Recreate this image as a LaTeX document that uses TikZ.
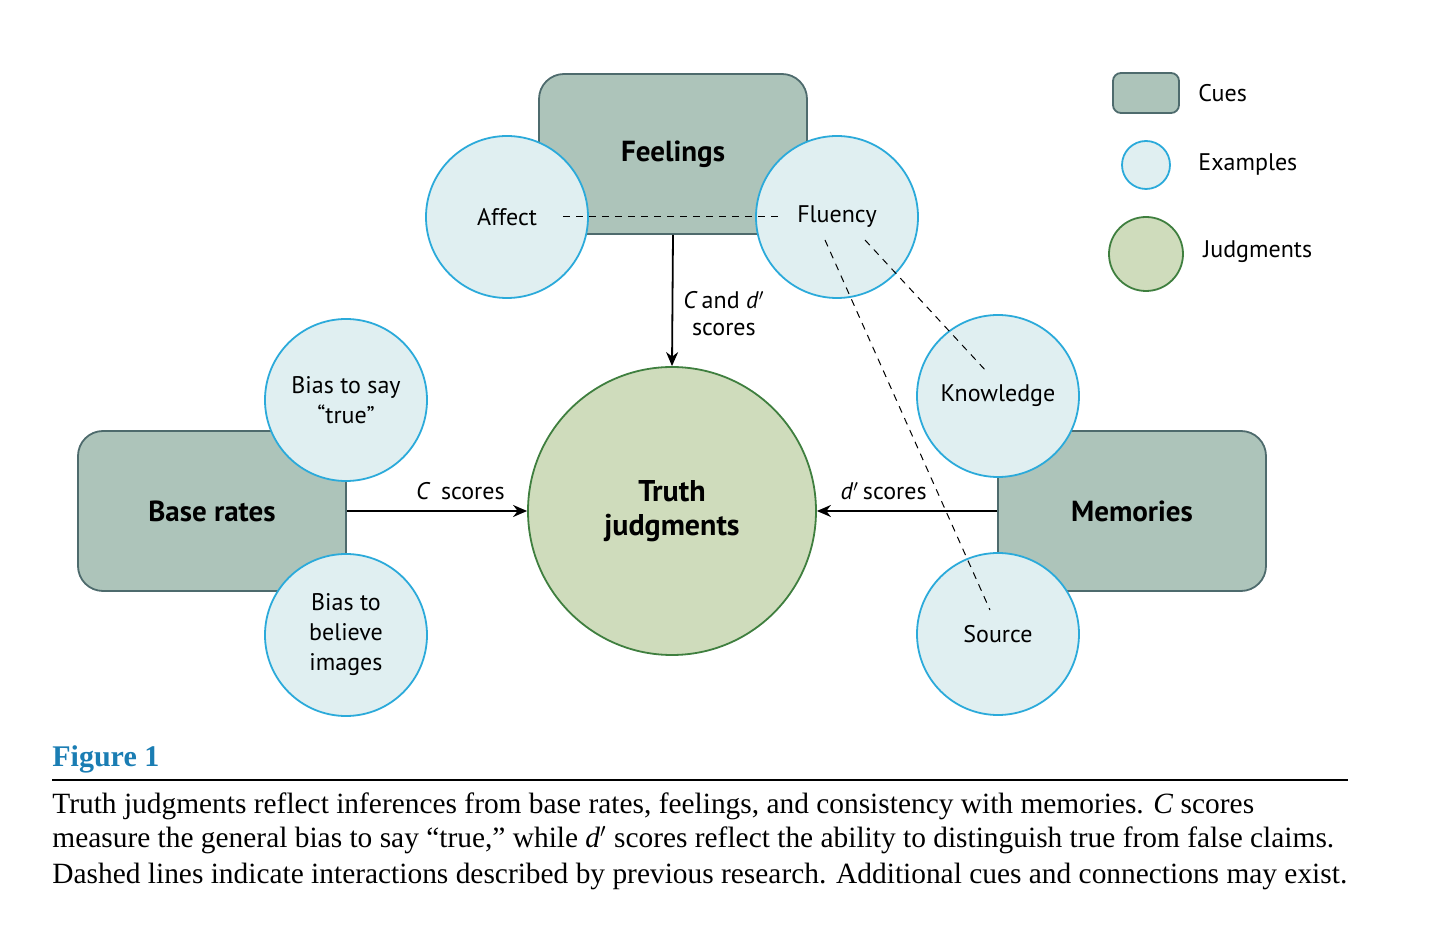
\documentclass[tikz,border=0pt]{standalone}
\usepackage{fontspec}
\setmainfont{Liberation Serif}
\newfontfamily\labelfont{PT Sans}
\usepackage{tikz}
\usepackage{xcolor}
\usetikzlibrary{arrows.meta,positioning,calc}
\definecolor{cueFill}{HTML}{ADC4BA}
\definecolor{cueLine}{HTML}{4E6B6D}
\definecolor{exFill}{HTML}{E0EFF1}
\definecolor{exLine}{HTML}{2BAADA}
\definecolor{judFill}{HTML}{CFDCBC}
\definecolor{judLine}{HTML}{3F7F3F}
\definecolor{figBlue}{HTML}{1A7DB3}
\tikzset{
  cue/.style={rounded corners=12.5pt,draw=cueLine,line width=0.9pt,fill=cueFill,
              minimum width=134pt,minimum height=80pt,
              font=\labelfont\fontsize{14.5}{17}\selectfont\bfseries},
  example/.style={circle,draw=exLine,line width=0.9pt,fill=exFill,
              minimum size=81pt,inner sep=0pt,align=center,
              font=\labelfont\fontsize{12}{15}\selectfont},
  judgment/.style={circle,draw=judLine,line width=0.9pt,fill=judFill,
              minimum size=144pt,inner sep=0pt,align=center,
              font=\labelfont\fontsize{15}{17}\selectfont\bfseries},
  legtext/.style={anchor=west,inner sep=0pt,font=\labelfont\fontsize{12}{14}\selectfont},
  scorearrow/.style={-{Stealth[length=7pt,width=6pt]},line width=0.9pt},
  scorelabel/.style={inner sep=0pt,align=center,font=\labelfont\fontsize{12}{13.5}\selectfont},
  link/.style={dashed,dash pattern=on 3.5pt off 3pt,line width=0.5pt},
}

\begin{document}
\begin{tikzpicture}[x=0.5pt,y=-0.5pt]
  \useasboundingbox (0,0) rectangle (1436,940);
  % cues
  \node[cue] (feel) at (673,154) {Feelings};
  \node[cue] (base) at (212,511) {Base rates};
  \node[cue] (mem) at (1132,511) {Memories};
  % examples
  \node[example] (affect) at (507,217) {Affect};
  \node[example] (fluency) at (837,217) {Fluency};
  \node[example] (biastrue) at (346,400) {Bias to say\\“true”};
  \node[example] (biasimg) at (346,635) {Bias to\\believe\\images};
  \node[example] (know) at (998,396) {Knowledge};
  \node[example] (source) at (998,634) {Source};
  % judgment
  \node[judgment] (truth) at (672,511) {Truth\\judgments};
  % score arrows
  \draw[scorearrow] (feel.south) -- (truth.north)
     node[scorelabel,pos=0.6,right=5pt]{\textit{C}\,and \textit{d}$'$\\scores};
  \draw[scorearrow] (base.east) -- (truth.west)
     node[scorelabel,pos=0.63,above=5pt]{\textit{C}\, scores};
  \draw[scorearrow] (mem.west) -- (truth.east)
     node[scorelabel,pos=0.63,above=5pt]{\textit{d}$'$\,scores};
  % interactions
  \coordinate (flKnow) at ([shift={(28,23)}]fluency.center);
  \coordinate (flSrc) at ([shift={(-12,23)}]fluency.center);
  \coordinate (knowEnd) at ([shift={(-11,-24)}]know.center);
  \coordinate (srcEnd) at ([shift={(-8,-24)}]source.center);
  \draw[link,shorten <=28pt,shorten >=27pt] (affect.center) -- (fluency.center);
  \draw[link] (flKnow) -- (knowEnd);
  \draw[link] (flSrc) -- (srcEnd);
  % legend
  \node[cue,minimum width=33pt,minimum height=20pt,rounded corners=4pt] (legcue) at (1146,93) {};
  \node[legtext] (legcuetxt) at (1198,93) {Cues};
  \node[example,minimum size=24pt] (legex) at (1146,165) {};
  \node[legtext] (legextxt) at (1198,165) {Examples};
  \node[judgment,minimum size=37pt] (legjud) at (1146,254) {};
  \node[legtext] (legjudtxt) at (1203,252) {Judgments};
  % caption
  \node[anchor=base west,inner sep=0pt,text=figBlue,font=\fontsize{15}{18}\selectfont\bfseries] (figtitle) at (52,767) {Figure 1};
  \coordinate (ruleL) at (52,780);
  \coordinate (ruleR) at (1348,780);
  \draw[line width=1pt] (ruleL) -- (ruleR);
  \node[anchor=base west,inner sep=0pt,font=\fontsize{14.7}{17}\selectfont] (cap1) at (52,813) {Truth judgments reflect inferences from base rates, feelings, and consistency with memories. \textit{C} scores};
  \node[anchor=base west,inner sep=0pt,font=\fontsize{14.7}{17}\selectfont] (cap2) at (52,848) {measure the general bias to say “true,” while \textit{d}$'$ scores reflect the ability to distinguish true from false claims.};
  \node[anchor=base west,inner sep=0pt,font=\fontsize{14.7}{17}\selectfont] (cap3) at (52,884) {Dashed lines indicate interactions described by previous research. Additional cues and connections may exist.};
\end{tikzpicture}
\end{document}
